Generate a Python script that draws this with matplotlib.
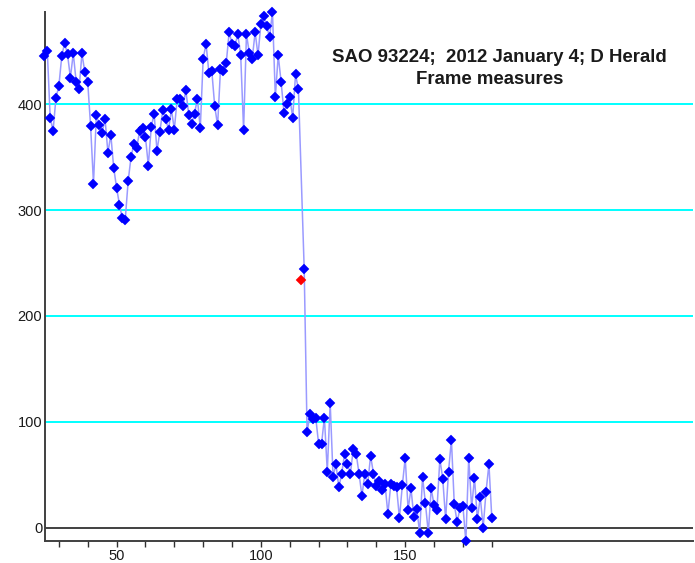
# -*- coding: utf-8 -*-

import matplotlib
matplotlib.use('Agg')
import matplotlib.pyplot as plt

# frame numbers of the measured points (frame 114 is the red event point)
frames = list(range(25, 114)) + list(range(115, 181))

# measured light values per frame
values = [445, 450, 387, 375, 406, 417, 445, 458, 447, 425,
          448, 421, 414, 448, 430, 421, 379, 325, 390, 380,
          373, 386, 354, 371, 340, 321, 305, 292, 291, 327,
          350, 362, 359, 375, 377, 369, 342, 378, 391, 356,
          374, 394, 386, 376, 395, 376, 405, 405, 398, 413,
          390, 381, 391, 405, 377, 443, 457, 429, 431, 398,
          380, 433, 431, 439, 468, 457, 455, 466, 446, 376,
          466, 448, 443, 468, 446, 476, 483, 474, 463, 487,
          407, 446, 421, 392, 400, 407, 387, 428, 414,
          244, 90, 107, 103, 104, 79, 79, 104, 53, 118,
          48, 60, 38, 51, 70, 60, 51, 74, 70, 51,
          30, 51, 41, 68, 51, 39, 44, 36, 41, 13,
          41, 39, 38, 9, 40, 66, 17, 37, 10, 18,
          -5, 48, 23, -5, 37, 21, 17, 65, 46, 8,
          53, 83, 22, 5, 19, 20, -13, 66, 19, 47,
          8, 29, 0, 34, 60, 9]

event_frame = [114]
event_value = [234]

grid_levels = [100, 200, 300, 400]
ytick_values = [0, 100, 200, 300, 400]
xtick_values = list(range(30, 190, 10))
xtick_labels = ['50' if v == 50 else '100' if v == 100 else '150' if v == 150 else '' for v in xtick_values]

title_line1 = 'SAO 93224;  2012 January 4; D Herald'
title_line2 = 'Frame measures'

plt.rcParams['font.family'] = ['Liberation Sans', 'DejaVu Sans']

fig = plt.figure(figsize=(6.95, 5.63), dpi=100)
ax = fig.add_axes([45 / 695, 1 - 541 / 563, 648 / 695, 529 / 563])

for lv in grid_levels:
    ax.axhline(lv, color='#00ffff', lw=1.4, zorder=1)
ax.axhline(0, color='#404040', lw=1.4, zorder=1)

ax.plot(frames, values, '-', color='#9a9aff', lw=1.1, zorder=2)
ax.plot(frames, values, 'D', color='#0000ff', ms=5.2, mew=0.3, zorder=3, clip_on=False)
ax.plot(event_frame, event_value, 'D', color='#ff0000', ms=5.0, mew=0.3, zorder=4)

ax.set_xlim(25.2, 249.7)
ax.set_ylim(-12.6, 487)

ax.set_xticks(xtick_values)
ax.set_xticklabels(xtick_labels)
ax.set_yticks(ytick_values)
ax.set_yticklabels([str(v) for v in ytick_values])

ax.tick_params(axis='x', direction='out', length=4.5, width=1.0, color='#303030',
               labelsize=10.5, pad=1.5, labelcolor='#1a1a1a')
ax.tick_params(axis='y', length=0, labelsize=10.5, pad=2, labelcolor='#1a1a1a')

for side in ['top', 'right']:
    ax.spines[side].set_visible(False)
for side in ['left', 'bottom']:
    ax.spines[side].set_color('#404040')
    ax.spines[side].set_linewidth(1.4)

ax.text(499 / 695, 1 - 57 / 563, title_line1, transform=fig.transFigure,
        ha='center', va='center', fontsize=13.4, fontweight='bold', color='#1a1a1a')
ax.text(490 / 695, 1 - 79 / 563, title_line2, transform=fig.transFigure,
        ha='center', va='center', fontsize=13.4, fontweight='bold', color='#1a1a1a')

fig.savefig('out.png', dpi=100)
